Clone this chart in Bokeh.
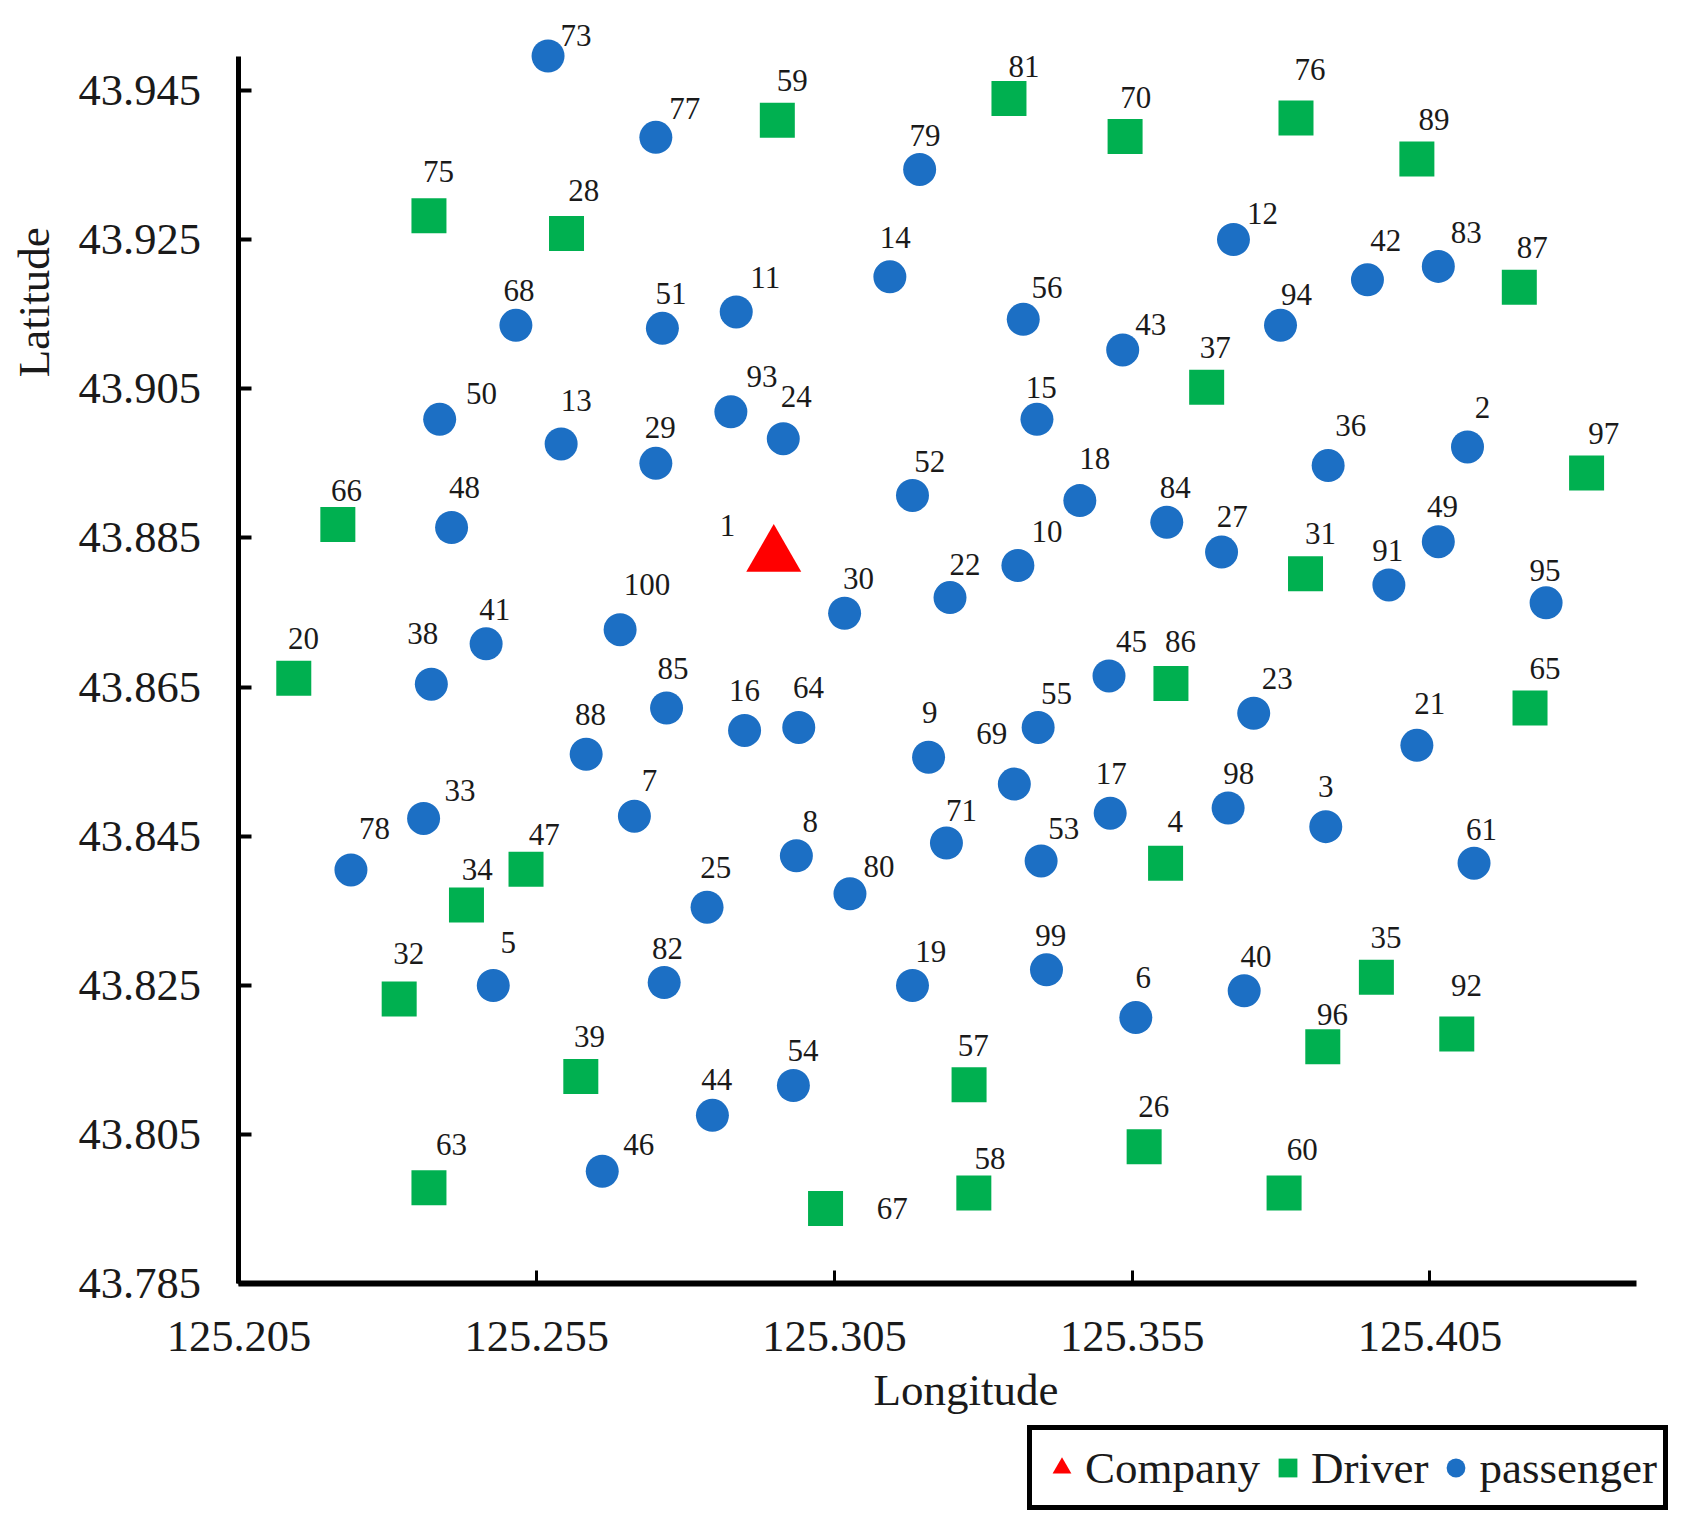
from bokeh.embed import file_html
from bokeh.resources import INLINE
from bokeh.plotting import figure
from bokeh.models import ColumnDataSource, FixedTicker, NumeralTickFormatter, Legend, LegendItem, Label, Text

# ---------- data ----------
company_id = [1]
company_lon = [125.2948]
company_lat = [43.8826]

passenger_id = [73, 77, 79, 14, 12, 42, 83, 68, 51, 11, 56, 43, 94, 50, 13, 29, 93, 24, 15, 2, 36, 52, 18, 84, 27, 49, 48,
                10, 22, 30, 91, 95, 100, 41, 38, 45, 55, 23, 85, 16, 64, 9, 69, 88, 21, 33, 7, 17, 98, 3, 78, 8, 71, 53, 61,
                80, 25, 5, 82, 19, 99, 6, 40, 54, 44, 46]
passenger_lon = [125.2569, 125.2750, 125.3193, 125.3143, 125.3720, 125.3945, 125.4064, 125.2515, 125.2761, 125.2885,
                 125.3367, 125.3534, 125.3799, 125.2387, 125.2591, 125.2750, 125.2876, 125.2964, 125.3390, 125.4113,
                 125.3879, 125.3181, 125.3462, 125.3608, 125.3700, 125.4064, 125.2407, 125.3358, 125.3244, 125.3067,
                 125.3981, 125.4245, 125.2690, 125.2465, 125.2373, 125.3511, 125.3392, 125.3754, 125.2768, 125.2899,
                 125.2990, 125.3208, 125.3352, 125.2633, 125.4028, 125.2360, 125.2714, 125.3513, 125.3711, 125.3875,
                 125.2238, 125.2986, 125.3238, 125.3397, 125.4124, 125.3076, 125.2836, 125.2477, 125.2764, 125.3181,
                 125.3406, 125.3556, 125.3738, 125.2981, 125.2845, 125.2660]
passenger_lat = [43.9496, 43.9387, 43.9344, 43.9200, 43.9250, 43.9196, 43.9214, 43.9135, 43.9131, 43.9153,
                 43.9143, 43.9102, 43.9135, 43.9009, 43.8976, 43.8950, 43.9019, 43.8983, 43.9009, 43.8972,
                 43.8947, 43.8907, 43.8900, 43.8871, 43.8831, 43.8845, 43.8864, 43.8813, 43.8770, 43.8749,
                 43.8787, 43.8763, 43.8727, 43.8708, 43.8654, 43.8665, 43.8596, 43.8615, 43.8622, 43.8592,
                 43.8596, 43.8556, 43.8520, 43.8560, 43.8572, 43.8474, 43.8477, 43.8481, 43.8488, 43.8463,
                 43.8405, 43.8424, 43.8441, 43.8417, 43.8414, 43.8373, 43.8355, 43.8250, 43.8254, 43.8250,
                 43.8271, 43.8207, 43.8243, 43.8116, 43.8076, 43.8001]

driver_id = [59, 81, 70, 76, 89, 75, 28, 87, 37, 97, 66, 31, 20, 86, 65, 47, 34, 4, 32, 35, 96, 92, 39, 57, 26, 63, 58, 60, 67]
driver_lon = [125.2954, 125.3343, 125.3538, 125.3825, 125.4028, 125.2369, 125.2600, 125.4200, 125.3675, 125.4313,
              125.2216, 125.3841, 125.2142, 125.3615, 125.4218, 125.2532, 125.2432, 125.3606, 125.2319, 125.3960,
              125.3870, 125.4095, 125.2624, 125.3276, 125.3570, 125.2369, 125.3284, 125.3805, 125.3035]
driver_lat = [43.9410, 43.9439, 43.9388, 43.9413, 43.9358, 43.9282, 43.9258, 43.9186, 43.9052, 43.8937,
              43.8868, 43.8802, 43.8662, 43.8655, 43.8622, 43.8406, 43.8358, 43.8414, 43.8232, 43.8261,
              43.8168, 43.8185, 43.8128, 43.8117, 43.8034, 43.7979, 43.7972, 43.7972, 43.7951]

x_ticks = [125.205, 125.255, 125.305, 125.355, 125.405]
y_ticks = [43.785, 43.805, 43.825, 43.845, 43.865, 43.885, 43.905, 43.925, 43.945]

# ---------- layout / style ----------
SCALE = 1.074
FONT = "Liberation Serif"
# The frame covers the whole canvas so that marks, axis titles and legend are not clipped;
# the axes are pinned inside it and bounded to the chart's own extent.
X_RANGE = (125.16495, 125.44623)
Y_RANGE = (43.75302, 43.95704)
X_BOUNDS = (125.205, 125.4396)
Y_BOUNDS = (43.785, 43.9496)

# label placement relative to its marker
LABEL_OFFSET = {
    1: (-43, -28),
    73: (26, -19), 77: (27, -27), 79: (5, -32), 14: (5, -37), 12: (27, -24), 42: (17, -37), 83: (26, -32), 68: (3, -32),
    51: (8, -32), 11: (27, -32), 56: (22, -30), 43: (26, -24), 94: (15, -29), 50: (39, -24), 13: (14, -40), 29: (4, -33),
    93: (29, -33), 24: (12, -39), 15: (4, -30), 2: (14, -37), 36: (21, -37), 52: (16, -32), 18: (14, -39), 84: (8, -32),
    27: (10, -33), 49: (4, -33), 48: (12, -37), 10: (27, -32), 22: (14, -31), 30: (13, -32), 91: (-1, -32), 95: (-1, -30),
    100: (25, -42), 41: (8, -32), 38: (-8, -47), 45: (21, -32), 55: (17, -32), 23: (22, -32), 85: (6, -37), 16: (0, -37),
    64: (9, -37), 9: (1, -42), 69: (-21, -47), 88: (4, -37), 21: (12, -39), 33: (34, -26), 7: (14, -33), 17: (1, -37),
    98: (10, -32), 3: (0, -37), 78: (22, -39), 8: (13, -32), 71: (14, -30), 53: (21, -30), 61: (7, -31), 80: (27, -25),
    25: (8, -37), 5: (14, -40), 82: (3, -32), 19: (17, -32), 99: (4, -32), 6: (7, -37), 40: (11, -32), 54: (9, -33),
    44: (4, -33), 46: (34, -25),
    59: (14, -37), 81: (14, -30), 70: (10, -36), 76: (13, -45), 89: (16, -37), 75: (9, -41), 28: (16, -40), 87: (12, -37),
    37: (8, -37), 97: (16, -37), 66: (8, -32), 31: (14, -37), 20: (9, -37), 86: (9, -39), 65: (14, -37), 47: (17, -32),
    34: (10, -33), 4: (9, -39), 32: (9, -42), 35: (9, -37), 96: (9, -30), 92: (9, -45), 39: (8, -37), 57: (4, -37),
    26: (9, -37), 63: (21, -40), 58: (15, -32), 60: (17, -40), 67: (62, 0),
}

p = figure(
    width=1675, height=1522,
    x_range=X_RANGE, y_range=Y_RANGE,
    output_backend="svg", toolbar_location=None,
    min_border=0,
    background_fill_color="white", border_fill_color="white",
)
p.outline_line_color = None
p.grid.visible = False

for ax, ticks, bounds, fixed, lw, tick_w, tick_in, standoff in (
    (p.xaxis[0], x_ticks, X_BOUNDS, Y_BOUNDS[0], 6, 3, 13, 38),
    (p.yaxis[0], y_ticks, Y_BOUNDS, X_BOUNDS[0], 5, 4, 13, 38),
):
    ax.ticker = FixedTicker(ticks=ticks)
    ax.bounds = bounds
    ax.fixed_location = fixed
    ax.formatter = NumeralTickFormatter(format="0.000")
    ax.axis_line_color = "black"
    ax.axis_line_width = lw
    ax.major_tick_line_color = "black"
    ax.major_tick_line_width = tick_w
    ax.major_tick_in = tick_in
    ax.major_tick_out = 0
    ax.minor_tick_line_color = None
    ax.major_label_standoff = standoff
    ax.major_label_text_font = FONT
    ax.major_label_text_font_size = "44.5px"
    ax.major_label_text_color = "#1a1a1a"

r_company = p.scatter(company_lon, company_lat, marker="triangle", size=55, color="#FF0000", line_width=0)
r_driver = p.scatter(driver_lon, driver_lat, marker="square", size=35, color="#00B050", line_width=0)
r_passenger = p.scatter(passenger_lon, passenger_lat, marker="circle", size=33, color="#1C6FC4", line_width=0)

ids = company_id + driver_id + passenger_id
lab = ColumnDataSource(data=dict(
    x=company_lon + driver_lon + passenger_lon,
    y=company_lat + driver_lat + passenger_lat,
    text=[str(i) for i in ids],
    dx=[LABEL_OFFSET[i][0] * SCALE for i in ids],
    dy=[LABEL_OFFSET[i][1] * SCALE for i in ids],
))
p.add_glyph(lab, Text(x="x", y="y", text="text", x_offset="dx", y_offset="dy",
                      text_align="center", text_baseline="middle",
                      text_font=FONT, text_font_size="31px", text_color="#1a1a1a"))

# axis titles sit off-centre in the reference
p.add_layout(Label(x=125.3271, y=43.7708, text="Longitude", text_font=FONT, text_font_size="45px",
                   text_color="#1a1a1a", text_align="center", text_baseline="middle"))
p.add_layout(Label(x=125.1706, y=43.9166, text="Latitude", text_font=FONT, text_font_size="45px",
                   text_color="#1a1a1a", text_align="center", text_baseline="middle", angle=1.5708))

legend = Legend(
    items=[LegendItem(label="Company", renderers=[r_company]),
           LegendItem(label="Driver", renderers=[r_driver]),
           LegendItem(label="passenger", renderers=[r_passenger])],
    orientation="horizontal", location=(1027, 12), margin=0, padding=6, spacing=4,
    glyph_width=47, glyph_height=47, label_standoff=0, label_height=63,
    label_text_font=FONT, label_text_font_size="45px", label_text_color="#1a1a1a",
    border_line_color="black", border_line_width=5, border_line_alpha=1, background_fill_alpha=1,
)
p.add_layout(legend)

open("out.html", "w").write(file_html(p, INLINE))
